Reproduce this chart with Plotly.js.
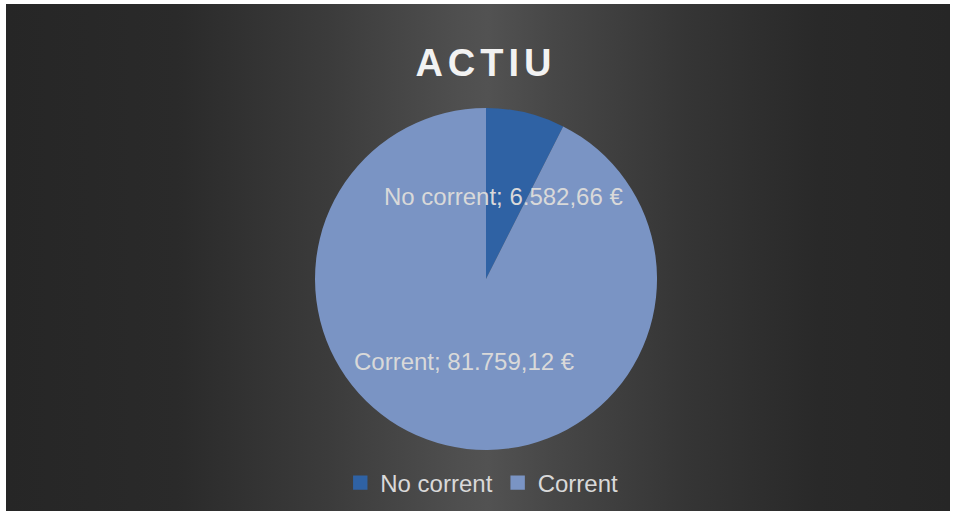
<!DOCTYPE html>
<html>
<head>
<meta charset="utf-8">
<script src="https://cdn.plot.ly/plotly-3.0.1.min.js"></script>
<style>
    html, body { margin: 0; padding: 0; background: #ffffff; }
    #frame {
        position: absolute; left: 6px; top: 4px; width: 944px; height: 507px;
        background: linear-gradient(to right, #262626 0%, #2a2a2a 18%, #3b3b3b 34%, #4f4f4f 48%, #525252 51%, #474747 58%, #353535 72%, #292929 86%, #262626 100%);
    }
    #chart { position: absolute; left: 0; top: 0; width: 954px; height: 515px; }
</style>
</head>
<body>
<div id="frame"></div>
<div id="chart"></div>
<script>
    // Chart data
    const categories = ['No corrent', 'Corrent'];
    const values = [6582.66, 81759.12];
    const sliceColors = ['#2f62a4', '#7a94c4'];

    // Catalan style number format: 81.759,12 €
    function formatEuro(v) {
        const parts = v.toFixed(2).split('.');
        const intPart = parts[0].replace(/\B(?=(\d{3})+(?!\d))/g, '.');
        return intPart + ',' + parts[1] + ' €';
    }

    // Where the data labels sit (paper coords)
    const labelPos = [
        { x: 0.5283, y: 0.6194 },
        { x: 0.4874, y: 0.2990 }
    ];

    const trace = {
        type: 'pie',
        labels: categories,
        values: values,
        sort: false,
        direction: 'clockwise',
        rotation: 0,
        textinfo: 'none',
        hoverinfo: 'none',
        marker: { colors: sliceColors, line: { width: 0 } },
        domain: { x: [0.3302, 0.6887], y: [0.1262, 0.7903] }
    };

    const annotations = categories.map((c, i) => ({
        xref: 'paper', yref: 'paper',
        x: labelPos[i].x, y: labelPos[i].y,
        text: c + '; ' + formatEuro(values[i]),
        showarrow: false,
        xanchor: 'center', yanchor: 'middle',
        font: { family: 'Liberation Sans, Arial, sans-serif', size: 24, color: '#d9d9d9' }
    }));

    const layout = {
        width: 954,
        height: 515,
        margin: { t: 0, b: 0, l: 0, r: 0 },
        paper_bgcolor: 'rgba(0,0,0,0)',
        plot_bgcolor: 'rgba(0,0,0,0)',
        title: {
            text: '<b>ACTIU</b>',
            x: 0.5094, xanchor: 'center',
            y: 0.879, yanchor: 'middle',
            font: { family: 'Liberation Sans, Arial, sans-serif', size: 38, color: '#f2f2f2' }
        },
        showlegend: true,
        legend: {
            orientation: 'h',
            x: 0.505, xanchor: 'center',
            y: 0.062, yanchor: 'middle',
            itemwidth: 30,
            font: { family: 'Liberation Sans, Arial, sans-serif', size: 24, color: '#d9d9d9' },
            bgcolor: 'rgba(0,0,0,0)',
            itemclick: false,
            itemdoubleclick: false
        },
        annotations: annotations
    };

    Plotly.newPlot('chart', [trace], layout, { displayModeBar: false, staticPlot: true }).then(gd => {
        // Excel spaces out the title letters
        const t = gd.querySelector('.gtitle');
        if (t) t.style.letterSpacing = '5px';
        // slightly bigger legend squares, like the original
        gd.querySelectorAll('.legendpoints path').forEach(p => {
            p.setAttribute('transform', (p.getAttribute('transform') || '') + ' scale(1.2)');
        });
    });
</script>
</body>
</html>
